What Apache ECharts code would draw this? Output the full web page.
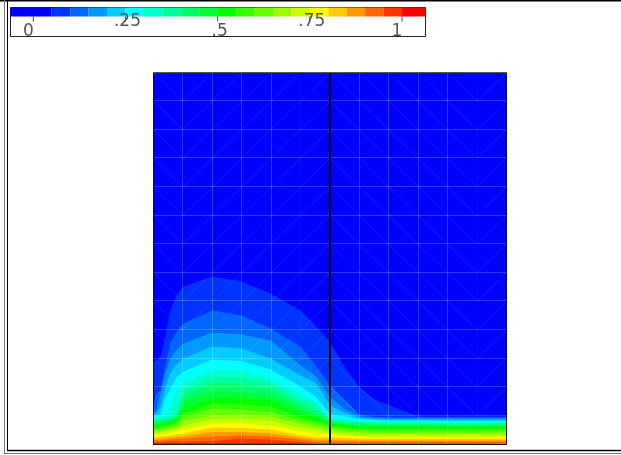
<!DOCTYPE html>
<html><head><meta charset="utf-8">
<style>html,body{margin:0;padding:0;background:#fff}#c{width:621px;height:455px}</style>
<script src="https://cdn.jsdelivr.net/npm/echarts@6/dist/echarts.min.js"></script>
</head><body><div id="c"></div>
<script>
const bandColors = ['#0000ff','#0033ff','#0066ff','#0099ff','#00ccff','#00ffff','#00ffcc','#00ff99','#00ff66','#00ff33','#00ff00','#33ff00','#66ff00','#99ff00','#ccff00','#ffff00','#ffcc00','#ff9900','#ff6600','#ff3300','#ff0000'];
const levels = [0.05,0.10,0.15,0.20,0.25,0.30,0.35,0.40,0.45,0.50,0.55,0.60,0.65,0.70,0.75,0.80,0.85,0.90,0.95,1.00];
const tickValues = [0,0.25,0.5,0.75,1];
const tickLabels = ['0','.25','.5','.75','1'];
const xMax = 353, yMax = 372;
const columnX = [0,3,7,12,17,23,30,59,88,117,147,162,177,192,206,221,236,265,294,324,353];
const iso05 = [82,84,87,109,134,149,158,168,163,151,134,119,102,76,57,45,39,28,28,28,28];
const iso10 = [39,51,54,79,102,112,121,134,129,116,98,79,59,44,30,27.7,27.3,27.3,27.3,27.3,27.3];
const iso15 = [32,34,51,72,86,94,101,112,110,104,79,69,47,35,28,26.7,26,26,26,26,26];
const iso20 = [30,31,38,57,72,80,86,98,96,86,69,62,39,31,26.5,25.5,25,25,25,25,25];
const iso25 = [28.5,29,29,47,56,67,73,85,83.5,75,58,48,30,28,25.5,24.5,24,24,23.5,23.5,23.5];
const iso30 = [27,27.5,28,28,39,52,62,74,75,65,51,42,26,24.5,23.5,23,23,23,22.5,22.5,22.5];
const iso35 = [25,25,25.5,26,27,32,54,67,67,61,45,39,25,23,22,21.5,21.5,21.5,21,21,21];
const iso40 = [23,23.5,24,24.5,25.5,28,49,61,60,55,41,33,24,22,21,20.5,20.5,20.5,20,20,20];
const iso45 = [21,21.5,22,23,24,26,44,53,52,49,36,30,22.5,20.5,19.5,19.5,19.5,19.5,19,19,19];
const iso50 = [19,19.5,20,21,22,24,36,46,47,44,31,27,21,19,18,17.5,17.5,17.5,17.5,17.5,17.5];
const iso55 = [17,17.5,18,19,20,22,31,41,40,38,27,24,19,17,16,15.5,15.5,15.5,15.5,15.5,15.5];
const iso60 = [15,15.5,16,17,18,20,27,36,35,32,24,21,17,15,14,13.5,13.5,13.5,13.5,13.5,13.5];
const iso65 = [13,13.5,14,15,16,18,23.5,29,30,28,21,18,15,13,12,11.5,11.5,11.5,11.5,11.5,11.5];
const iso70 = [11,11.5,12,13,14,15.5,19,25,25.5,24,17,15,12,11,10,9.5,9.5,9.5,9.5,9.5,9.5];
const iso75 = [9,9.5,10,10.5,11.5,13,14.5,21,21,19,13,11,10,9,8,7.5,7.5,7.5,7.5,7.5,7.5];
const iso80 = [7,7.5,8,8.5,9,10,11,17,16.5,15,9,7.5,7,6.5,6,5.7,5.7,5.7,5.7,5.7,5.7];
const iso85 = [5.5,5.5,6,6.5,7,7.5,8,12.5,12.5,11,7,5,5,4.5,4.3,4.3,4.3,4.3,4.3,4.3,4.3];
const iso90 = [4,4,4,4.5,5,5.5,6,8,9,8,5,3,3,3,3,3,3,3,3,3,3];
const iso95 = [2,2,2,2.5,3,3,3,3.5,6,5,2.3,1,1,1,1,1,1,1,1,1,1];
const iso100 = [0.9,0.9,0.9,0.9,0.9,0.9,0.9,0.9,0.9,0.9,0.9,0.5,0.5,0.5,0.5,0.5,0.5,0.5,0.5,0.5,0.5];
const isoHeights = [iso05,iso10,iso15,iso20,iso25,iso30,iso35,iso40,iso45,iso50,iso55,iso60,iso65,iso70,iso75,iso80,iso85,iso90,iso95,iso100];
const meshCols = 12, meshRows = 13;
const diagonalByCol = ['\\','/','/','/','/','/','\\','\\','\\','\\','\\','/'];
const faintCols = [5,11];
const interfaceCol = 6;

const segs = [];
const cw = xMax/meshCols, rh = yMax/meshRows;
for (let i=1;i<meshCols;i++) {
  if (i===interfaceCol) continue;
  segs.push([i*cw,0,i*cw,yMax, faintCols.includes(i)?2:0]);
}
for (let j=1;j<meshRows;j++) segs.push([0,j*rh,xMax,j*rh,0]);
for (let i=0;i<meshCols;i++) for (let j=0;j<meshRows;j++) {
  const up = diagonalByCol[i]==='/';
  segs.push([i*cw, up?j*rh:(j+1)*rh, (i+1)*cw, up?(j+1)*rh:j*rh, 1]);
}
segs.push([interfaceCol*cw,0,interfaceCol*cw,yMax,3]);
segs.push([0,0,0,yMax,4]); segs.push([xMax,0,xMax,yMax,4]); segs.push([0,0,xMax,0,4]); segs.push([0,yMax,xMax,yMax,5]);
const segStyle = [
  {stroke:'rgba(255,255,255,0.2)',lineWidth:1},
  {stroke:'rgba(255,255,255,0.09)',lineWidth:1},
  {stroke:'rgba(255,255,255,0.035)',lineWidth:1},
  {stroke:'#000',lineWidth:2},
  {stroke:'#111',lineWidth:1},
  {stroke:'#555',lineWidth:1}
];

const series = [];
series.push({type:'line',name:'band0',xAxisIndex:0,yAxisIndex:0,silent:true,showSymbol:false,symbol:'none',
  lineStyle:{width:0},areaStyle:{color:bandColors[0],opacity:1,origin:'start'},z:2,
  data:columnX.map(x=>[x,yMax])});
levels.forEach((lv,k)=>{
  series.push({type:'line',name:String(lv),xAxisIndex:0,yAxisIndex:0,silent:true,showSymbol:false,symbol:'none',
    lineStyle:{width:0},areaStyle:{color:bandColors[k+1],opacity:1,origin:'start'},z:3+k,
    data:columnX.map((x,i)=>[x,isoHeights[k][i]])});
});
series.push({type:'custom',xAxisIndex:0,yAxisIndex:0,silent:true,z:40,clip:false,data:segs,
  encode:{x:[0,2],y:[1,3]},
  renderItem(p,api){
    const a=api.coord([api.value(0),api.value(1)]), b=api.coord([api.value(2),api.value(3)]);
    const kind=api.value(4);
    let x1=a[0],y1=a[1],x2=b[0],y2=b[1];
    if ((kind===0||kind===2)) {
      if (x1===x2) { x1=x2=Math.floor(x1)+0.5; }
      else { y1=y2=Math.floor(y1-0.5)+0.5; }
    }
    return {type:'line',shape:{x1,y1,x2,y2},style:segStyle[kind]};
  }});
// colour bar
const barMin=-0.0618, barMax=1.0637, stripBase=0.69;
const stripEdges=[barMin,...levels,barMax];
series.push({type:'custom',xAxisIndex:1,yAxisIndex:1,silent:true,z:10,
  data:bandColors.map((c,i)=>[stripEdges[i],stripEdges[i+1],i]),encode:{x:[0,1]},
  renderItem(p,api){
    const a=api.coord([api.value(0),1]), b=api.coord([api.value(1),stripBase]);
    return {type:'rect',shape:{x:a[0],y:a[1],width:b[0]-a[0],height:b[1]-a[1]},style:{fill:bandColors[api.value(2)]}};
  }});
series.push({type:'custom',xAxisIndex:1,yAxisIndex:1,silent:true,z:12,
  data:tickValues.map((v,i)=>[v,i]),encode:{x:0},
  renderItem(p,api){
    const i=api.value(1), a=api.coord([api.value(0),stripBase]), b=api.coord([api.value(0),0.52]);
    const upper=i%2===1, lab=tickLabels[i];
    const dx=lab.length===1?-5:2;
    const ly=api.coord([0,upper?0.53:0.17])[1];
    return {type:'group',children:[
      {type:'line',shape:{x1:a[0],y1:a[1],x2:b[0],y2:b[1]},style:{stroke:'#444',lineWidth:1}},
      {type:'text',style:{x:a[0]+dx,y:ly,text:lab,align:'center',verticalAlign:'middle',fill:'#555',font:'17px "DejaVu Sans"'}}
    ]};
  }});

const frame=[
  {x1:0,y1:0.5,x2:621,y2:0.5,c:'#000',w:2},
  {x1:4.5,y1:0,x2:4.5,y2:453,c:'#777',w:1},
  {x1:7.5,y1:0,x2:7.5,y2:451,c:'#000',w:1},
  {x1:7,y1:450.5,x2:621,y2:450.5,c:'#000',w:1.5},
  {x1:4,y1:453.5,x2:621,y2:453.5,c:'#777',w:1}
];

echarts.init(document.getElementById('c'),null,{renderer:'canvas'}).setOption({
  animation:false,backgroundColor:'#fff',
  grid:[
    {left:153.5,top:72.5,width:353,height:372,show:false},
    {left:10.5,top:7.5,width:415,height:29,show:true,borderColor:'#222',borderWidth:1,backgroundColor:'#fff'}
  ],
  xAxis:[
    {type:'value',gridIndex:0,min:0,max:xMax,show:false},
    {type:'value',gridIndex:1,min:barMin,max:barMax,show:false}
  ],
  yAxis:[
    {type:'value',gridIndex:0,min:0,max:yMax,show:false},
    {type:'value',gridIndex:1,min:0,max:1,show:false}
  ],
  graphic:frame.map(f=>({type:'line',silent:true,z:50,shape:{x1:f.x1,y1:f.y1,x2:f.x2,y2:f.y2},style:{stroke:f.c,lineWidth:f.w}})),
  series
});
</script></body></html>
